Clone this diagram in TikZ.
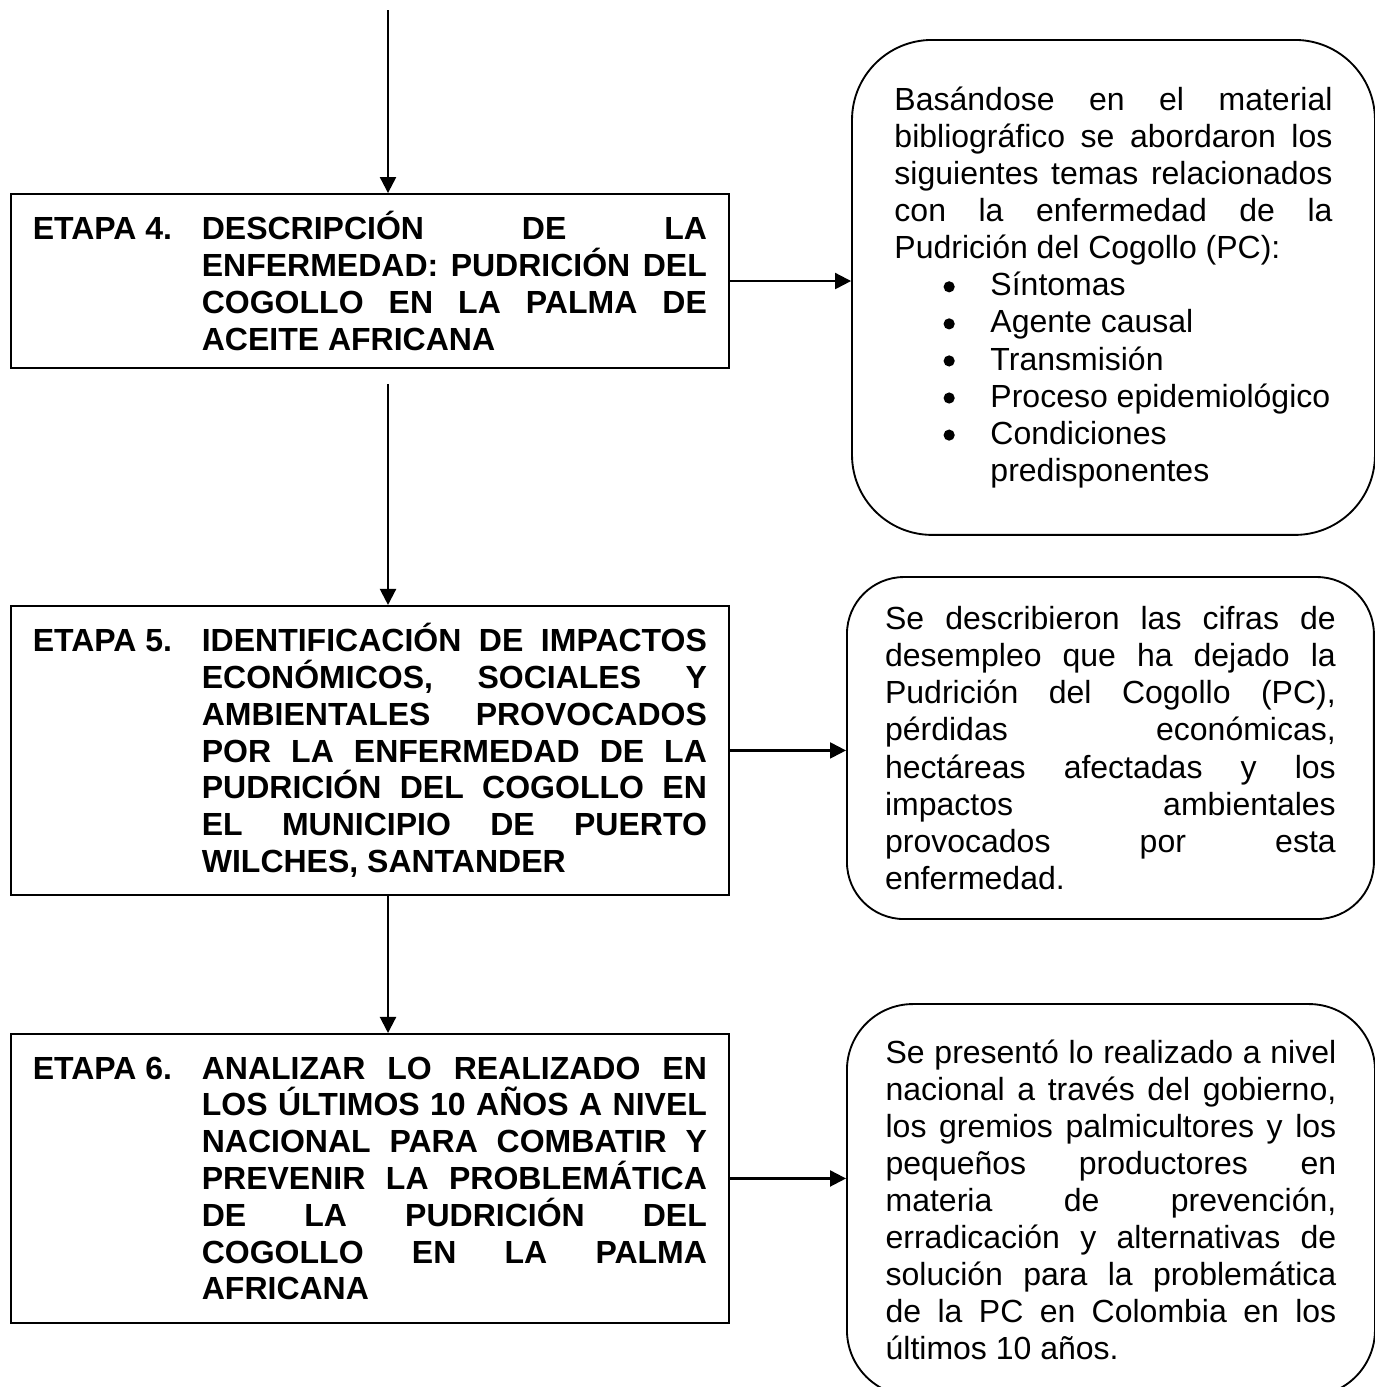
\documentclass[tikz,border=0pt]{standalone}
\usepackage{fontspec}
\setmainfont{Liberation Sans}
\usetikzlibrary{arrows.meta, positioning}
\newcommand{\pcitem}{\hspace*{18.4pt}\raisebox{1.3pt}{\tikz\fill (0,0) circle (2.1pt);}\hspace*{13.4pt}}
\newcommand{\etapa}[2]{\parbox[t]{63.4pt}{ETAPA #1.}\parbox[t]{189.4pt}{#2}}

\begin{document}
\begin{tikzpicture}[
    stage/.style={rectangle, draw, line width=0.7pt, minimum width=269.25pt, inner xsep=8.3pt, inner ysep=0pt, font=\bfseries\fontsize{12}{13.8}\selectfont},
    note/.style={rectangle, draw, line width=0.7pt, minimum width=197.6pt, text width=169pt, align=justify, inner xsep=0pt, font=\fontsize{12}{13.9}\selectfont},
    arrow/.style={-{Triangle[length=6pt, width=6pt]}, line width=0.8pt}
]
\useasboundingbox (0,0) rectangle (515.6pt,-520.1pt);
\coordinate (start) at (145.5pt,-3.75pt);

\node[stage, minimum height=65.25pt, anchor=north west] (etapa4) at (3.64pt,-72.4pt)
    {\etapa{4}{DESCRIPCIÓN DE LA\linebreak ENFERMEDAD: PUDRICIÓN DEL\linebreak COGOLLO EN LA PALMA DE\linebreak ACEITE AFRICANA}};
\node[stage, minimum height=108.4pt, below=88.5pt of etapa4] (etapa5)
    {\etapa{5}{IDENTIFICACIÓN DE IMPACTOS\linebreak ECONÓMICOS, SOCIALES Y\linebreak AMBIENTALES PROVOCADOS\linebreak POR LA ENFERMEDAD DE LA\linebreak PUDRICIÓN DEL COGOLLO EN\linebreak EL MUNICIPIO DE PUERTO\linebreak WILCHES, SANTANDER}};
\node[stage, minimum height=108.4pt, below=51.4pt of etapa5] (etapa6)
    {\etapa{6}{ANALIZAR LO REALIZADO EN\linebreak LOS ÚLTIMOS 10 AÑOS A NIVEL\linebreak NACIONAL PARA COMBATIR Y\linebreak PREVENIR LA PROBLEMÁTICA\linebreak DE LA PUDRICIÓN DEL\linebreak COGOLLO EN LA PALMA\linebreak AFRICANA}};

\node[note, rounded corners=30pt, minimum width=196.1pt, text width=164.25pt, minimum height=185.6pt, right=45.4pt of etapa4, yshift=-2.4pt] (res4)
    {Basándose en el material\linebreak bibliográfico se abordaron los\linebreak siguientes temas relacionados\linebreak con la enfermedad de la\linebreak Pudrición del Cogollo (PC):\\
    \pcitem Síntomas\\
    \pcitem Agente causal\\
    \pcitem Transmisión\\
    \pcitem Proceso epidemiológico\\
    \pcitem Condiciones\\
    \hspace*{36pt}predisponentes};
\node[note, rounded corners=21.4pt, minimum height=128.25pt, right=43.5pt of etapa5, yshift=0.9pt] (res5)
    {Se describieron las cifras de\linebreak desempleo que ha dejado la\linebreak Pudrición del Cogollo (PC),\linebreak pérdidas económicas,\linebreak hectáreas afectadas y los\linebreak impactos ambientales\linebreak provocados por esta\linebreak enfermedad.};
\node[note, rounded corners=24.75pt, minimum width=198pt, minimum height=147pt, right=43.5pt of etapa6, yshift=-8.1pt] (res6)
    {Se presentó lo realizado a nivel\linebreak nacional a través del gobierno,\linebreak los gremios palmicultores y los\linebreak pequeños productores en\linebreak materia de prevención,\linebreak erradicación y alternativas de\linebreak solución para la problemática\linebreak de la PC en Colombia en los\linebreak últimos 10 años.};

\draw[arrow] (start) -- (start |- etapa4.north);
\draw[arrow, shorten <=5.6pt] (start |- etapa4.south) -- (start |- etapa5.north);
\draw[arrow] (start |- etapa5.south) -- (start |- etapa6.north);
\draw[arrow] (etapa4.east) -- (etapa4.east -| res4.west);
\draw[arrow] (etapa5.east) -- (etapa5.east -| res5.west);
\draw[arrow] (etapa6.east) -- (etapa6.east -| res6.west);
\end{tikzpicture}
\end{document}
